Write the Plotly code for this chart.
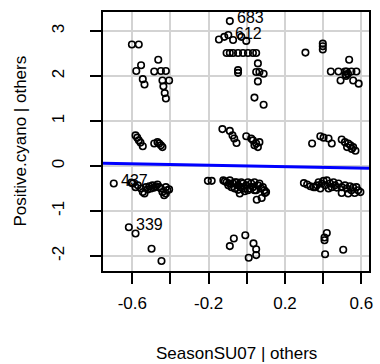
import plotly.graph_objects as go

# ---- data ----
x_left = [-0.602, -0.566, -0.554, -0.579, -0.545, -0.536, -0.464, -0.485, -0.450, -0.424,
          -0.442, -0.407, -0.437, -0.430, -0.424,
          -0.583, -0.574, -0.566, -0.557, -0.545, -0.485, -0.468, -0.459, -0.450, -0.442,
          -0.697, -0.605, -0.597, -0.583, -0.571, -0.554, -0.545, -0.536, -0.528, -0.519,
          -0.511, -0.502, -0.494, -0.485, -0.476, -0.468, -0.459, -0.450, -0.442, -0.433,
          -0.424, -0.416, -0.407, -0.424,
          -0.618, -0.583, -0.499, -0.447]
y_left = [2.70, 2.70, 2.24, 2.11, 1.93, 1.81, 2.36, 2.10, 2.11, 2.11,
          1.90, 1.90, 1.77, 1.62, 1.50,
          0.68, 0.63, 0.57, 0.52, 0.44, 0.50, 0.53, 0.50, 0.46, 0.42,
          -0.39, -0.37, -0.39, -0.47, -0.43, -0.50, -0.58, -0.61, -0.47, -0.52,
          -0.45, -0.50, -0.43, -0.48, -0.45, -0.41, -0.47, -0.50, -0.58, -0.65,
          -0.47, -0.54, -0.52, -0.61,
          -1.36, -1.50, -1.84, -2.11]

x_mid = [-0.089, -0.146, -0.118, -0.097, -0.072, -0.029, -0.003,
         -0.106, -0.089, -0.072, -0.046, -0.020, 0.006, 0.032, 0.049,
         -0.046, -0.046, 0.058, 0.049, 0.066, 0.088, 0.058, 0.040, 0.088,
         -0.128, -0.089, -0.075, -0.066, -0.054, -0.003, 0.032, 0.049, 0.066, 0.040, 0.058, 0.023,
         -0.204, -0.184, -0.123, -0.106, -0.089, -0.097, -0.080, -0.072, -0.063, -0.054,
         -0.046, -0.037, -0.029, -0.020, -0.011, -0.003, 0.006, 0.015, 0.023, 0.032,
         0.040, 0.049, 0.058, 0.066, 0.075, 0.084, 0.092, 0.101, 0.052, 0.078, 0.095,
         -0.115, -0.063, -0.029, 0.006, 0.040, -0.011, -0.046, -0.089,
         -0.068, -0.089, -0.008, 0.035, 0.049, 0.049, 0.010]
y_mid = [3.22, 2.81, 2.87, 2.91, 2.80, 2.87, 2.78,
         2.51, 2.51, 2.51, 2.51, 2.51, 2.51, 2.51, 2.51,
         2.13, 2.07, 2.28, 2.09, 2.09, 2.05, 1.88, 1.52, 1.36,
         0.82, 0.78, 0.68, 0.61, 0.51, 0.66, 0.57, 0.50, 0.53, 0.46, 0.42, 0.61,
         -0.33, -0.33, -0.32, -0.36, -0.32, -0.43, -0.47, -0.39, -0.50, -0.36,
         -0.43, -0.61, -0.47, -0.39, -0.50, -0.43, -0.36, -0.50, -0.39, -0.47,
         -0.36, -0.54, -0.43, -0.39, -0.50, -0.47, -0.54, -0.58, -0.75, -0.71, -0.60,
         -0.34, -0.36, -0.36, -0.54, -0.54, -0.56, -0.53, -0.39,
         -1.61, -1.78, -1.54, -1.72, -1.85, -1.98, -2.04]

x_right = [0.307, 0.398, 0.398, 0.398, 0.536, 0.440, 0.480, 0.514, 0.523, 0.548, 0.574,
           0.517, 0.491, 0.557, 0.586, 0.520, 0.530,
           0.342, 0.385, 0.402, 0.428, 0.445, 0.497, 0.514, 0.531, 0.543, 0.557, 0.525, 0.550, 0.569,
           0.299, 0.316, 0.333, 0.350, 0.367, 0.376, 0.393, 0.402, 0.410, 0.419, 0.428, 0.436,
           0.445, 0.454, 0.462, 0.471, 0.480, 0.497, 0.497, 0.514, 0.523, 0.531, 0.540, 0.548,
           0.557, 0.565, 0.574, 0.583, 0.595, 0.385, 0.359,
           0.419, 0.407, 0.407, 0.410, 0.505]
y_right = [2.52, 2.72, 2.66, 2.59, 2.36, 2.10, 2.10, 2.10, 2.10, 2.10, 2.10,
           2.03, 1.90, 1.90, 1.83, 2.00, 2.05,
           0.50, 0.66, 0.63, 0.61, 0.50, 0.59, 0.53, 0.50, 0.46, 0.42, 0.42, 0.38, 0.34,
           -0.38, -0.41, -0.45, -0.47, -0.43, -0.36, -0.39, -0.33, -0.43, -0.32, -0.50, -0.39,
           -0.47, -0.36, -0.43, -0.48, -0.39, -0.47, -0.60, -0.43, -0.50, -0.61, -0.45, -0.54,
           -0.48, -0.60, -0.47, -0.54, -0.58, -0.50, -0.47,
           -1.49, -1.59, -1.65, -1.96, -1.86]

point_x = x_left + x_mid + x_right
point_y = y_left + y_mid + y_right

label_names = ["683", "612", "437", "339"]
label_x = [-0.089, -0.097, -0.697, -0.618]
label_y = [3.22, 2.91, -0.39, -1.36]
label_yshift = [4, 2, 3, 3]

fit_intercept = 0.0
fit_slope = -0.08

x_ticks = [-0.6, -0.4, -0.2, 0.0, 0.2, 0.4, 0.6]
x_tick_text = ["-0.6", "", "-0.2", "", "0.2", "", "0.6"]
y_ticks = [-2, -1, 0, 1, 2, 3]
y_tick_text = ["-2", "-1", "0", "1", "2", "3"]

x_range = [-0.7534, 0.640]
y_range = [-2.333, 3.422]

FONT = "Liberation Sans, Arial, Helvetica, sans-serif"

fig = go.Figure()
fig.add_trace(go.Scatter(
    x=point_x, y=point_y, mode="markers",
    marker=dict(symbol="circle-open", size=6.5, color="black", line=dict(width=1.6, color="black")),
    showlegend=False, cliponaxis=False,
))
line_x = [x_range[0], x_range[1]]
line_y = [fit_intercept + fit_slope * v for v in line_x]
fig.add_trace(go.Scatter(
    x=line_x, y=line_y, mode="lines",
    line=dict(color="#0000FF", width=3), showlegend=False,
))

for name, lx, ly, ys in zip(label_names, label_x, label_y, label_yshift):
    fig.add_annotation(x=lx, y=ly, text=name, showarrow=False, xanchor="left", yanchor="middle",
                       xshift=5, yshift=ys, font=dict(family=FONT, size=16, color="black"))

fig.add_annotation(xref="paper", yref="paper", x=0.5, y=0, text="SeasonSU07 | others",
                   showarrow=False, xanchor="center", yanchor="middle", yshift=-82,
                   font=dict(family=FONT, size=17, color="black"))
fig.add_annotation(xref="paper", yref="paper", x=0, y=0.5, text="Positive.cyano | others",
                   showarrow=False, xanchor="center", yanchor="middle", xshift=-83, textangle=-90,
                   font=dict(family=FONT, size=17, color="black"))

axis_common = dict(
    showline=True, linecolor="black", linewidth=2, mirror=True,
    ticks="outside", ticklen=11, tickwidth=1.5, tickcolor="black",
    showgrid=True, gridcolor="#d3d3d3", gridwidth=2, zeroline=False,
    tickfont=dict(family=FONT, size=17, color="black"),
)
fig.update_xaxes(range=x_range, tickmode="array", tickvals=x_ticks, ticktext=x_tick_text,
                 ticklabelstandoff=5, **axis_common)
fig.update_yaxes(range=y_range, tickmode="array", tickvals=y_ticks, ticktext=y_tick_text,
                 tickangle=-90, ticklabelstandoff=19, **axis_common)

fig.update_layout(
    width=380, height=364,
    margin=dict(l=103, r=7.3, t=11.7, b=93.3, pad=0),
    paper_bgcolor="white", plot_bgcolor="white",
    font=dict(family=FONT, size=17, color="black"),
)
fig.write_html("out.html")
